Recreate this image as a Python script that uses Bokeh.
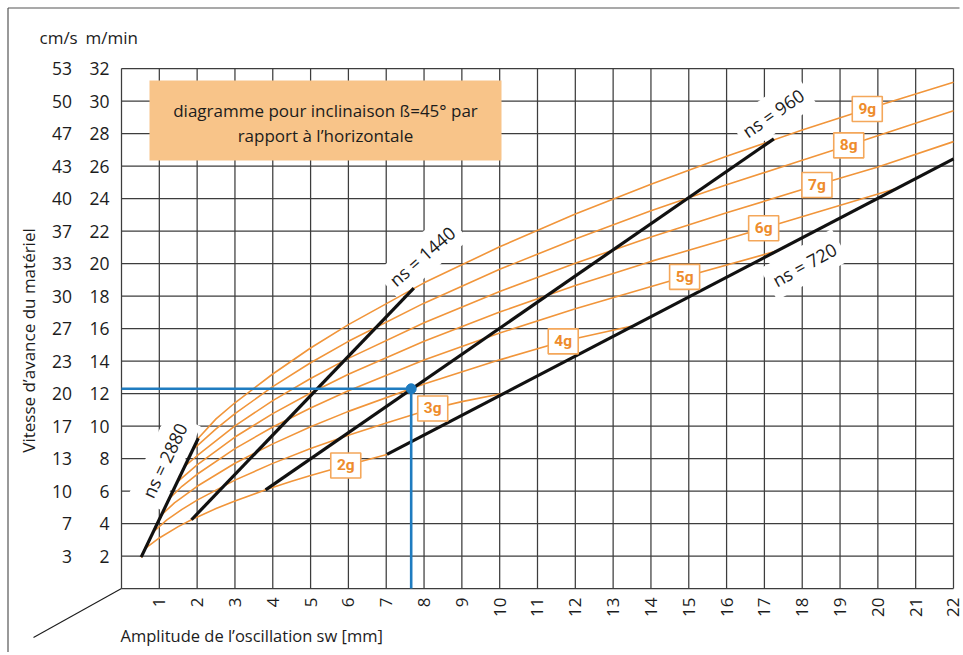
import math
import numpy as np
from bokeh.plotting import figure
from bokeh.models import Range1d
from bokeh.embed import file_html
from bokeh.resources import INLINE
from bokeh.core.properties import value

# ---------------- data ----------------
amplitude_ticks = list(range(1, 23))                 # mm
speed_ticks_m_min = list(range(2, 33, 2))            # m/min
speed_ticks_cm_s = [3, 7, 10, 13, 17, 20, 23, 27, 30, 33, 37, 40, 43, 47, 50, 53]

# constant-acceleration curves (2g ... 9g): amplitude [mm] -> speed [m/min]
g2_x = [0.52, 0.63, 1.0, 1.5, 1.85, 2.5, 3.0, 3.81, 4.5, 5.0, 5.93, 7.02]
g2_y = [1.93, 2.47, 3.11, 3.81, 4.23, 4.92, 5.39, 6.07, 6.60, 6.95, 7.57, 8.25]
g3_x = [0.52, 0.84, 1.2, 1.6, 2.0, 3.0, 4.0, 5.0, 6.0, 7.0, 8.23, 9.0, 10.11]
g3_y = [1.93, 3.49, 4.22, 4.87, 5.44, 6.67, 7.70, 8.61, 9.43, 10.19, 11.08, 11.5, 12.02]
g4_x = [0.52, 1.05, 1.4, 2.0, 3.0, 4.0, 5.0, 6.0, 8.0, 10.0, 11.68, 13.5]
g4_y = [1.93, 4.51, 5.27, 6.29, 7.71, 8.90, 9.95, 10.90, 12.59, 14.07, 15.21, 16.15]
g5_x = [0.52, 1.26, 1.6, 2.0, 3.0, 4.0, 5.0, 6.0, 8.0, 10.0, 12.0, 14.89, 17.34]
g5_y = [1.93, 5.52, 6.29, 7.03, 8.61, 9.94, 11.11, 12.17, 14.06, 15.72, 17.22, 19.18, 20.78]
g6_x = [0.52, 1.47, 2.0, 3.0, 4.0, 5.0, 6.0, 8.0, 10.0, 12.0, 14.0, 16.98, 18.5, 20.51]
g6_y = [1.93, 6.54, 7.61, 9.32, 10.76, 12.03, 13.18, 15.22, 17.01, 18.64, 20.13, 22.17, 23.23, 24.63]
g7_x = [0.52, 1.67, 2.0, 3.0, 4.0, 5.0, 6.0, 8.0, 10.0, 12.0, 14.0, 16.0, 18.39, 20.0, 22.0]
g7_y = [1.93, 7.52, 8.17, 10.01, 11.56, 12.92, 14.16, 16.35, 18.28, 20.02, 21.63, 23.12, 24.83, 25.94, 27.5]
g8_x = [0.52, 1.88, 2.5, 3.0, 4.0, 5.0, 6.0, 8.0, 10.0, 12.0, 14.0, 16.0, 18.0, 19.23, 22.0]
g8_y = [1.93, 8.53, 9.82, 10.76, 12.42, 13.89, 15.21, 17.56, 19.64, 21.51, 23.24, 24.84, 26.35, 27.27, 29.4]
g9_x = [0.52, 2.03, 2.5, 3.0, 4.0, 5.0, 6.0, 8.0, 10.0, 12.0, 14.0, 16.0, 18.0, 19.72, 22.0]
g9_y = [1.93, 9.25, 10.44, 11.43, 13.2, 14.8, 16.24, 18.81, 21.03, 23.04, 24.88, 26.6, 28.21, 29.51, 31.16]
g_names = ["2g", "3g", "4g", "5g", "6g", "7g", "8g", "9g"]
g_label_x = [5.93, 8.23, 11.68, 14.89, 16.98, 18.39, 19.23, 19.72]

# constant-speed lines (ns in 1/min)
ns2880_x = [0.52, 2.03]
ns2880_y = [1.93, 9.25]
ns1440_x = [1.85, 7.73]
ns1440_y = [4.23, 18.48]
ns960_x = [3.81, 17.25]
ns960_y = [6.07, 27.67]
ns720_x = [7.02, 22.0]
ns720_y = [8.25, 26.44]
ns_names = ["ns = 2880", "ns = 1440", "ns = 960", "ns = 720"]
ns_label_x = [1.14, 7.95, 17.23, 18.06]
ns_label_y = [7.88, 20.45, 29.26, 19.93]
ns_label_angle_deg = [64.5, 41, 34.5, 29]

# example operating point (blue)
op_x = 7.66
op_y = 12.29

title_lines = ["diagramme pour inclinaison ß=45° par", "rapport à l’horizontale"]

# ---------------- layout ----------------
W, H = 963, 652
PX, PY = 37.818, 16.25          # pixels per mm / per m/min
OX, OY = 121, 588               # canvas pixel of the (0, 0) corner
x0 = -OX / PX
x1 = x0 + W / PX
y1 = OY / PY
y0 = y1 - H / PY
XMAX, YMAX = 22, 32


def dx(px):
    return px / PX


def dy(px):
    return px / PY


FONT = value("Open Sans")
ORANGE = "#f1953a"
GRID = "#3d3d3d"
INK = "#1c1c1c"

p = figure(width=W, height=H, x_range=Range1d(x0, x1), y_range=Range1d(y0, y1),
           output_backend="svg", toolbar_location=None,
           x_axis_location=None, y_axis_location=None, min_border=0)
p.outline_line_color = None
p.grid.visible = False
p.background_fill_color = "white"
p.border_fill_color = "white"

# page frame (top and left edges)
p.line([x0 + dx(7.5), x0 + dx(959)], [y1 - dy(7.5), y1 - dy(7.5)], line_color="#555555", line_width=1.2)
p.line([x0 + dx(7.5), x0 + dx(7.5)], [y0, y1 - dy(7.5)], line_color="#555555", line_width=1.2)

# grid
vx = [0] + amplitude_ticks
p.segment(x0=vx, y0=[0] * len(vx), x1=vx, y1=[YMAX] * len(vx), line_color=GRID, line_width=1.25)
hy = [0] + speed_ticks_m_min
p.segment(x0=[0] * len(hy), y0=hy, x1=[XMAX] * len(hy), y1=hy, line_color=GRID, line_width=1.25)

# perspective stroke at the lower-left corner
p.line([0, -dx(88)], [0, -dy(49)], line_color=INK, line_width=1.1)

# title box
p.quad(left=dx(28), right=dx(380), bottom=dy(428), top=dy(508), fill_color="#f8c489", line_color=None)
p.text(x=[dx(204)] * 2, y=[dy(478), dy(453)], text=title_lines, text_align="center",
       text_baseline="middle", text_font=FONT, text_font_size="17px", text_color=INK)

# ns labels with white background (under the curves)
p.text(x=ns_label_x, y=ns_label_y, text=ns_names,
       angle=[math.radians(a) for a in ns_label_angle_deg],
       text_align="center", text_baseline="middle", text_font=FONT,
       text_font_size="18px", text_color=INK, background_fill_color="white", padding=6)

# acceleration curves
curves = [(g2_x, g2_y), (g3_x, g3_y), (g4_x, g4_y), (g5_x, g5_y),
          (g6_x, g6_y), (g7_x, g7_y), (g8_x, g8_y), (g9_x, g9_y)]
for cxs, cys in curves:
    p.line(cxs, cys, line_color=ORANGE, line_width=1.6)

# speed lines
for lx, ly in [(ns2880_x, ns2880_y), (ns1440_x, ns1440_y), (ns960_x, ns960_y), (ns720_x, ns720_y)]:
    p.line(lx, ly, line_color="#111111", line_width=3.2)

# operating point
BLUE = "#1f7cc0"
p.line([0, op_x], [op_y, op_y], line_color=BLUE, line_width=2.6)
p.line([op_x, op_x], [0, op_y], line_color=BLUE, line_width=2.6)
p.scatter([op_x], [op_y], size=10, fill_color=BLUE, line_color=BLUE)

# g labels in boxes, centred on their curves
g_label_y = [float(np.interp(lx, cxs, cys)) for lx, (cxs, cys) in zip(g_label_x, curves)]
p.rect(x=g_label_x, y=g_label_y, width=30, height=25, width_units="screen", height_units="screen",
       fill_color="white", line_color="#f4a75a", line_width=1.6)
p.text(x=g_label_x, y=g_label_y, text=g_names, text_align="center", text_baseline="middle",
       text_font=value("Roboto"), text_font_style="bold", text_font_size="15.5px", text_color="#ee8c2c")

# axis tick labels
p.text(x=amplitude_ticks, y=[-dy(9)] * len(amplitude_ticks), text=[str(t) for t in amplitude_ticks],
       angle=math.pi / 2, text_align="right", text_baseline="middle",
       text_font=FONT, text_font_size="17px", text_color=INK)
p.text(x=[-dx(12)] * len(speed_ticks_m_min), y=speed_ticks_m_min, text=[str(t) for t in speed_ticks_m_min],
       text_align="right", text_baseline="middle", text_font=FONT, text_font_size="17.5px", text_color=INK)
p.text(x=[-dx(49.5)] * len(speed_ticks_cm_s), y=speed_ticks_m_min, text=[str(t) for t in speed_ticks_cm_s],
       text_align="right", text_baseline="middle", text_font=FONT, text_font_size="17.5px", text_color=INK)

# unit headers and axis titles
p.text(x=[-dx(82), -dx(36)], y=[dy(551)] * 2, text=["cm/s", "m/min"], text_align="left",
       text_baseline="middle", text_font=FONT, text_font_size="17px", text_color=INK)
p.text(x=[-dx(93)], y=[dy(248)], text=["Vitesse d’avance du matériel"], angle=math.pi / 2,
       text_align="center", text_baseline="middle", text_font=FONT, text_font_size="17px", text_color=INK)
p.text(x=[-dx(1)], y=[-dy(47)], text=["Amplitude de l’oscillation sw [mm]"], text_align="left",
       text_baseline="middle", text_font=FONT, text_font_size="16.5px", text_color=INK)

open("out.html", "w").write(file_html(p, INLINE))
